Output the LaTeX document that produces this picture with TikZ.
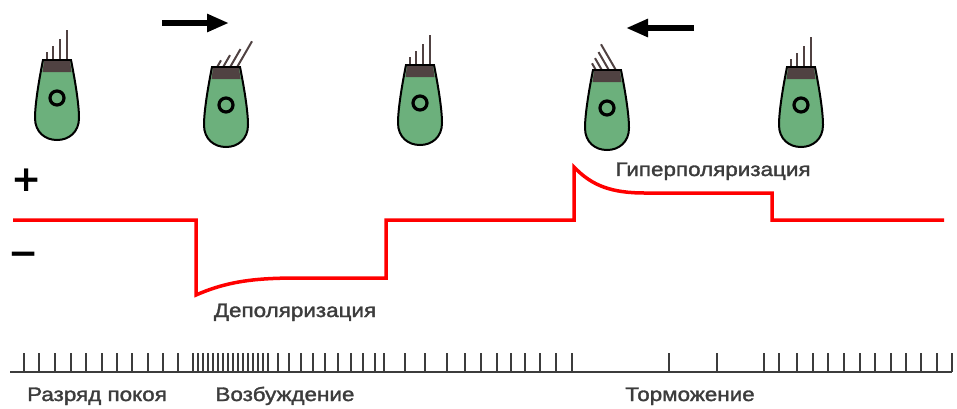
\documentclass[tikz,border=0pt]{standalone}
\usepackage{fontspec}
\setmainfont{Liberation Sans}
\newfontfamily\labelfont{Liberation Sans}[FakeStretch=1.15, FakeBold=1.6]
\newfontfamily\signfont{DejaVu Sans}
\usetikzlibrary{arrows.meta}

\definecolor{cellgreen}{RGB}{108,176,124}
\definecolor{platebrown}{RGB}{80,66,66}
\definecolor{inkgray}{RGB}{60,60,60}

\tikzset{
  cellbody/.style={fill=cellgreen, draw=black, line width=2pt},
  hair/.style={draw=platebrown, line width=2pt},
  trace/.style={draw=red, line width=3.5pt},
  spike/.style={draw=inkgray, line width=1.4pt},
  push/.style={-{Triangle[length=22pt,width=17pt]}, line width=6pt},
  caption/.style={text=inkgray, font=\labelfont\fontsize{19.5}{22}\selectfont, inner sep=0pt, anchor=base},
  sign/.style={font=\signfont\bfseries\fontsize{36}{40}\selectfont, inner sep=0pt},
  % #1 = bundle tilt in degrees (positive leans right)
  pics/haircell/.style={code={
    \foreach \dx/\h in {-10/10,-4/16,3/23,10/32}
      \draw[hair] (\dx,2) -- ++({\h*sin(#1)},{-\h*cos(#1)});
    \draw[cellbody] (-14,0) -- (14,0) .. controls (18,20) and (22,44) .. (22,58)
      .. controls (22,72) and (12,80) .. (0,80) .. controls (-12,80) and (-22,72) .. (-22,58)
      .. controls (-22,44) and (-18,20) .. (-14,0) -- cycle;
    \fill[platebrown] (-13,1) -- (13,1) -- (14.5,12) -- (-14.5,12) -- cycle;
    \draw[line width=3.2pt, fill=cellgreen] (0,38) circle (7);
  }}
}

\begin{document}
\begin{tikzpicture}[x=1pt, y=-1pt]
  \useasboundingbox (0,0) rectangle (957,408);

  % cells, bundle at rest / pushed right / rest / pushed left / rest
  \pic (cellA) at (57,60) {haircell=0};
  \pic (cellB) at (226,67) {haircell=30};
  \pic (cellC) at (420,65) {haircell=0};
  \pic (cellD) at (607,70) {haircell=-30};
  \pic (cellE) at (801,67) {haircell=0};

  \coordinate (pushR1) at (162,23);
  \coordinate (pushR2) at (229,23);
  \coordinate (pushL1) at (694,28);
  \coordinate (pushL2) at (626,28);
  \draw[push] (pushR1) -- (pushR2);
  \draw[push] (pushL1) -- (pushL2);

  % receptor potential
  \node[sign] (plus) at (27,180) {+};
  \node[sign] (minus) at (24,259) {−};
  \draw[trace] (13,220) -- (196,220) -- (196,295)
    .. controls (230,280) and (260,278) .. (300,278) -- (386,278) -- (386,220)
    -- (574,220) -- (574,167) .. controls (592,186) and (612,193) .. (645,193)
    -- (772,193) -- (772,220) -- (944,220);
  \node[caption] (depol) at (295,317) {Деполяризация};
  \node[caption] (hyper) at (713,176) {Гиперполяризация};

  % afferent spike train
  \draw[inkgray, line width=2pt] (10,372) -- (952,372);
  \foreach \s in {24,39,55,71,86,102,117,132,148,163,178,
                  193,198,...,268,
                  278,289,301,313,325,338,351,363,375,384,
                  405,425,447,465,481,497,511,525,540,556,572,
                  669,717,
                  764,779,797,813,828,844,860,875,891,906,921,937,952}
    \draw[spike] (\s,372) -- (\s,353);
  \node[caption] (rest) at (97,401) {Разряд покоя};
  \node[caption] (excit) at (285,401) {Возбуждение};
  \node[caption] (inhib) at (690,401) {Торможение};
\end{tikzpicture}
\end{document}
